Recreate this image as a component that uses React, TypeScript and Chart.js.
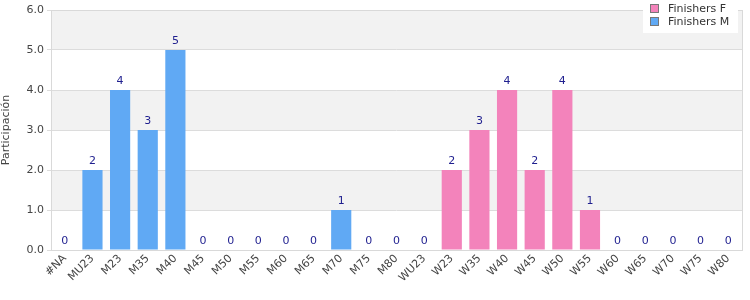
import React, { useEffect, useRef } from "react";
import { Chart, registerables } from "chart.js";

Chart.register(...registerables);

const categories = ["#NA", "MU23", "M23", "M35", "M40", "M45", "M50", "M55", "M60", "M65", "M70", "M75", "M80", "WU23", "W23", "W35", "W40", "W45", "W50", "W55", "W60", "W65", "W70", "W75", "W80"];
const finishersF = [0, 0, 0, 0, 0, 0, 0, 0, 0, 0, 0, 0, 0, 0, 2, 3, 4, 2, 4, 1, 0, 0, 0, 0, 0];
const finishersM = [0, 2, 4, 3, 5, 0, 0, 0, 0, 0, 1, 0, 0, 0, 0, 0, 0, 0, 0, 0, 0, 0, 0, 0, 0];
const yTicks = [0, 1, 2, 3, 4, 5, 6];

const PINK = "#f383bb";
const BLUE = "#60a9f4";
const FONT = "'DejaVu Sans', Verdana, sans-serif";

const bandsPlugin = {
  id: "bands",
  beforeDraw(chart: any) {
    const { ctx, chartArea, scales } = chart;
    const y = scales.y;
    ctx.save();
    for (let i = 0; i < yTicks.length - 1; i++) {
      if (i % 2 === 1) {
        const top = y.getPixelForValue(yTicks[i + 1]);
        const bot = y.getPixelForValue(yTicks[i]);
        ctx.fillStyle = "#f2f2f2";
        ctx.fillRect(chartArea.left, top, chartArea.right - chartArea.left, bot - top);
      }
    }
    ctx.restore();
  },
  afterDraw(chart: any) {
    const { ctx, chartArea } = chart;
    ctx.save();
    ctx.strokeStyle = "#d9d9d9";
    ctx.lineWidth = 1;
    ctx.strokeRect(Math.round(chartArea.left) + 0.5, Math.round(chartArea.top) + 0.5, Math.round(chartArea.right - chartArea.left), Math.round(chartArea.bottom - chartArea.top));
    // value labels
    const x = chart.scales.x;
    const y = chart.scales.y;
    ctx.fillStyle = "#1f1f8f";
    ctx.font = `11px ${FONT}`;
    ctx.textAlign = "center";
    ctx.textBaseline = "bottom";
    categories.forEach((_, i) => {
      const total = finishersF[i] + finishersM[i];
      ctx.fillText(String(total), x.getPixelForValue(i), y.getPixelForValue(total) - 3);
    });
    // legend
    const lx = 643, ly = 0, lw = 95, lh = 33;
    ctx.fillStyle = "#ffffff";
    ctx.fillRect(lx, ly, lw, lh);
    const items = [
      { label: "Finishers F", color: PINK },
      { label: "Finishers M", color: BLUE },
    ];
    ctx.textAlign = "left";
    ctx.textBaseline = "middle";
    items.forEach((it, k) => {
      const cy = 8.5 + k * 13;
      ctx.fillStyle = it.color;
      ctx.fillRect(651, cy - 3.5, 7, 7);
      ctx.strokeStyle = "#777";
      ctx.lineWidth = 1;
      ctx.strokeRect(650.5, cy - 4, 8, 8);
      ctx.fillStyle = "#333";
      ctx.font = `11px ${FONT}`;
      ctx.fillText(it.label, 668, cy + 0.5);
    });
    ctx.restore();
  },
};

export default function App() {
  const ref = useRef<HTMLCanvasElement>(null);
  useEffect(() => {
    if (!ref.current) return;
    const chart = new Chart(ref.current, {
      type: "bar",
      data: {
        labels: categories,
        datasets: [
          { label: "Finishers F", data: finishersF, backgroundColor: PINK, borderWidth: 0 },
          { label: "Finishers M", data: finishersM, backgroundColor: BLUE, borderWidth: 0 },
        ],
      },
      options: {
        animation: false,
        responsive: false,
        maintainAspectRatio: false,
        layout: { padding: { top: 10, right: 8, left: 0, bottom: 0 } },
        plugins: { legend: { display: false }, tooltip: { enabled: false } },
        datasets: { bar: { barPercentage: 0.73, categoryPercentage: 1 } } as any,
        scales: {
          x: {
            stacked: true,
            grid: { display: false, drawTicks: false },
            border: { display: false },
            ticks: {
              color: "#444",
              font: { family: FONT, size: 11 },
              maxRotation: 45,
              minRotation: 45,
              autoSkip: false,
              padding: 2,
            },
            afterFit(scale: any) { scale.height = 50; },
          },
          y: {
            stacked: true,
            min: 0,
            max: 6,
            grid: { color: "#dcdcdc", tickLength: 4, tickColor: "#dcdcdc" },
            border: { display: false },
            ticks: {
              stepSize: 1,
              color: "#444",
              font: { family: FONT, size: 11 },
              padding: 3,
              callback: (v: any) => Number(v).toFixed(1),
            },
            title: {
              display: true,
              text: "Participación",
              color: "#444",
              font: { family: FONT, size: 11 },
              padding: { top: 0, bottom: 0 },
            },
            afterFit(scale: any) { scale.width = 51; },
          },
        },
      },
      plugins: [bandsPlugin],
    });
    return () => chart.destroy();
  }, []);
  return (
    <div style={{ position: "fixed", left: 0, top: 0, width: 750, height: 300, background: "#fff" }}>
      <canvas ref={ref} width={750} height={300} style={{ width: 750, height: 300 }} />
    </div>
  );
}
